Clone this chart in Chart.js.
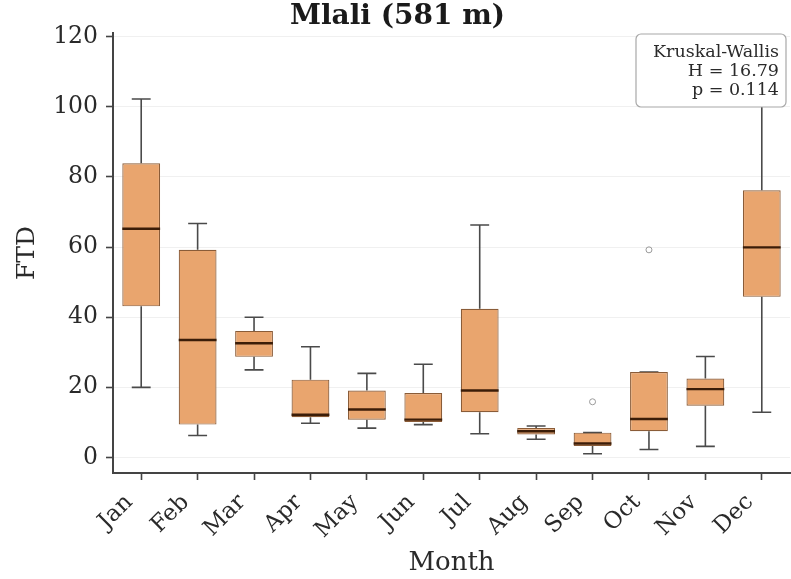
<!DOCTYPE html>
<html>
<head>
<meta charset="utf-8">
<script src="https://cdn.jsdelivr.net/npm/chart.js@4.4.1/dist/chart.umd.min.js"></script>
<style>
  html, body { margin: 0; padding: 0; background: #fff; overflow: hidden; }
  #wrap { width: 795px; height: 579px; }
</style>
</head>
<body>
<div id="wrap"><canvas id="chart" width="795" height="579"></canvas></div>
<script>
// box plot stats per month
const months = ['Jan', 'Feb', 'Mar', 'Apr', 'May', 'Jun', 'Jul', 'Aug', 'Sep', 'Oct', 'Nov', 'Dec'];
const whiskerLow = [20.0, 6.3, 25.0, 9.8, 8.4, 9.4, 6.8, 5.2, 1.1, 2.3, 3.2, 12.9];
const q1 = [43.1, 9.4, 28.7, 11.5, 10.8, 10.1, 12.9, 6.6, 3.3, 7.5, 14.8, 45.8];
const medians = [65.2, 33.5, 32.6, 12.2, 13.7, 10.8, 19.1, 7.5, 4.0, 11.0, 19.5, 59.9];
const q3 = [83.9, 59.2, 36.1, 22.2, 19.1, 18.4, 42.4, 8.4, 7.1, 24.4, 22.5, 76.2];
const whiskerHigh = [102.2, 66.7, 40.0, 31.6, 24.0, 26.6, 66.3, 9.0, 7.1, 24.4, 28.8, 110.0];
const outliers = [null, null, null, null, null, null, null, null, 15.9, 59.2, null, null];
const yTicks = [0, 20, 40, 60, 80, 100, 120];
const statLines = ['Kruskal-Wallis', 'H = 16.79', 'p = 0.114'];

const serif = "'DejaVu Serif', 'Liberation Serif', serif";
const boxFill = '#E9A56E';

// whiskers, caps, medians and the stats box
const boxParts = {
    id: 'boxParts',
    beforeDatasetsDraw(chart) {
        const ctx = chart.ctx;
        const x = chart.scales.x, y = chart.scales.y;
        const bars = chart.getDatasetMeta(0).data;
        ctx.save();
        ctx.strokeStyle = '#4a4a4a';
        ctx.lineWidth = 1.6;
        months.forEach((m, i) => {
            const cx = x.getPixelForValue(i);
            const half = bars[i].width / 4;
            ctx.beginPath();
            ctx.moveTo(cx, y.getPixelForValue(whiskerLow[i]));
            ctx.lineTo(cx, y.getPixelForValue(q1[i]));
            ctx.moveTo(cx, y.getPixelForValue(q3[i]));
            ctx.lineTo(cx, y.getPixelForValue(whiskerHigh[i]));
            ctx.stroke();
            ctx.beginPath();
            ctx.moveTo(cx - half, y.getPixelForValue(whiskerLow[i]));
            ctx.lineTo(cx + half, y.getPixelForValue(whiskerLow[i]));
            ctx.moveTo(cx - half, y.getPixelForValue(whiskerHigh[i]));
            ctx.lineTo(cx + half, y.getPixelForValue(whiskerHigh[i]));
            ctx.stroke();
        });
        ctx.restore();
    },
    afterDatasetsDraw(chart) {
        const ctx = chart.ctx;
        const x = chart.scales.x, y = chart.scales.y;
        const bars = chart.getDatasetMeta(0).data;
        ctx.save();
        ctx.strokeStyle = '#3b1d08';
        ctx.lineWidth = 2.4;
        months.forEach((m, i) => {
            const cx = x.getPixelForValue(i);
            const half = bars[i].width / 2;
            const py = y.getPixelForValue(medians[i]);
            ctx.beginPath();
            ctx.moveTo(cx - half, py);
            ctx.lineTo(cx + half, py);
            ctx.stroke();
        });
        ctx.restore();
    },
    afterDraw(chart) {
        const ctx = chart.ctx;
        const area = chart.chartArea;
        const right = area.right - 4, top = area.top + 1;
        const w = 150, h = 73;
        ctx.save();
        ctx.beginPath();
        ctx.roundRect(right - w, top, w, h, 5);
        ctx.fillStyle = '#fff';
        ctx.fill();
        ctx.strokeStyle = '#a8a8a8';
        ctx.lineWidth = 1.2;
        ctx.stroke();
        ctx.fillStyle = '#2a2a2a';
        ctx.font = "17.5px " + serif;
        ctx.textAlign = 'right';
        ctx.textBaseline = 'middle';
        statLines.forEach((t, k) => ctx.fillText(t, right - 7, top + 18 + k * 19));
        ctx.restore();
    }
};

new Chart(document.getElementById('chart').getContext('2d'), {
    type: 'bar',
    data: {
        labels: months,
        datasets: [{
            label: 'FTD',
            data: months.map((m, i) => [q1[i], q3[i]]),
            backgroundColor: boxFill,
            borderColor: '#8a5c38',
            borderWidth: 1.2,
            borderSkipped: false,
            barPercentage: 0.67,
            categoryPercentage: 1.0
        }, {
            type: 'line',
            label: 'outliers',
            data: outliers,
            showLine: false,
            pointRadius: 3,
            pointBorderWidth: 1,
            pointBorderColor: '#9a9a9a',
            pointBackgroundColor: 'rgba(0,0,0,0)'
        }]
    },
    options: {
        responsive: false,
        animation: false,
        layout: { padding: 0 },
        plugins: {
            legend: { display: false },
            tooltip: { enabled: false },
            title: {
                display: true,
                text: 'Mlali (581 m)',
                color: '#1a1a1a',
                font: { family: serif, size: 28, weight: 'bold', lineHeight: 1.0 },
                padding: { top: 3, bottom: 2 }
            }
        },
        scales: {
            x: {
                offset: true,
                grid: { offset: false, drawOnChartArea: false, tickColor: '#444', tickLength: 7, tickWidth: 1.6 },
                border: { display: true, color: '#444', width: 2 },
                ticks: {
                    color: '#2a2a2a',
                    font: { family: serif, size: 23 },
                    maxRotation: 45,
                    minRotation: 45,
                    padding: 9,
                    labelOffset: -12
                },
                title: {
                    display: true,
                    text: 'Month',
                    color: '#2a2a2a',
                    font: { family: serif, size: 26 },
                    padding: { top: 0, bottom: 0 }
                },
                afterFit(scale) {
                    scale.height = 106;
                    scale.paddingLeft = 0;
                    scale.paddingRight = 0;
                }
            },
            y: {
                min: -4.4,
                max: 121,
                grid: { color: 'rgba(0,0,0,0.06)', tickColor: '#444', tickLength: 7, tickWidth: 1.6 },
                border: { display: true, color: '#444', width: 2 },
                ticks: {
                    color: '#2a2a2a',
                    font: { family: serif, size: 23.5 },
                    padding: 8
                },
                afterBuildTicks(scale) {
                    scale.ticks = yTicks.map(v => ({ value: v }));
                },
                title: {
                    display: true,
                    text: 'FTD',
                    color: '#2a2a2a',
                    font: { family: serif, size: 25 },
                    padding: { top: 12, bottom: 0 }
                },
                afterFit(scale) {
                    scale.width = 113;
                }
            }
        }
    },
    plugins: [boxParts]
});
</script>
</body>
</html>
